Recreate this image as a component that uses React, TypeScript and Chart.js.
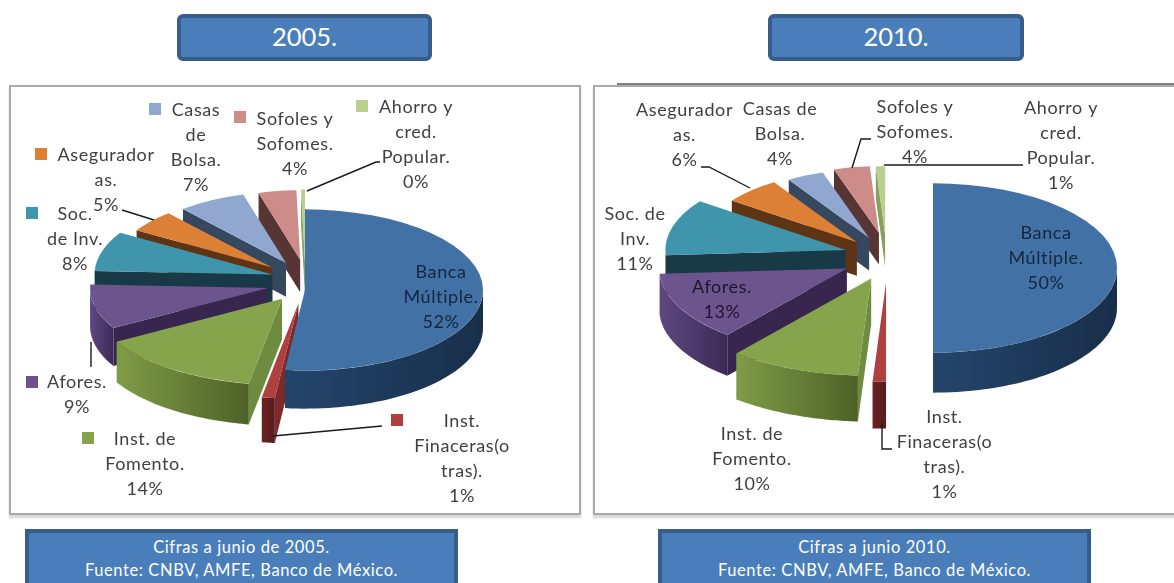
import React, { useEffect, useRef } from "react";
import { Chart, registerables } from "chart.js";

Chart.register(...registerables);

const categories = [
  "Banca Múltiple.",
  "Inst. Finaceras(otras).",
  "Inst. de Fomento.",
  "Afores.",
  "Soc. de Inv.",
  "Aseguradoras.",
  "Casas de Bolsa.",
  "Sofoles y Sofomes.",
  "Ahorro y cred. Popular.",
];
const values2005 = [52, 1, 14, 9, 8, 5, 7, 4, 0.4];
const values2010 = [50, 1, 10, 13, 11, 6, 4, 4, 1];

const wrapped2005 = [
  ["Banca", "Múltiple."],
  ["Inst.", "Finaceras(o", "tras)."],
  ["Inst. de", "Fomento."],
  ["Afores."],
  ["Soc.", "de Inv."],
  ["Asegurador", "as."],
  ["Casas", "de", "Bolsa."],
  ["Sofoles y", "Sofomes."],
  ["Ahorro y", "cred.", "Popular."],
];
const wrapped2010 = [
  ["Banca", "Múltiple."],
  ["Inst.", "Finaceras(o", "tras)."],
  ["Inst. de", "Fomento."],
  ["Afores."],
  ["Soc. de", "Inv."],
  ["Asegurador", "as."],
  ["Casas de", "Bolsa."],
  ["Sofoles y", "Sofomes."],
  ["Ahorro y", "cred.", "Popular."],
];

const topColors = ["#4271A6", "#B04040", "#86A44B", "#6E548D", "#3F95AC", "#DB8034", "#90A8CF", "#CD8C8A", "#B9D08D"];
const wallLeft = ["#24456B", "#6A2222", "#7F9C47", "#5F4880", "#1B3E4A", "#5E3414", "#3A4C64", "#5C3838", "#6E8A4A"];
const wallRight = ["#182F4A", "#591C1C", "#4E6228", "#3C2A56", "#173641", "#5E3414", "#3A4C64", "#5C3838", "#6E8A4A"];
const cutColors = ["#1F3D5E", "#7C2A2A", "#6D8C40", "#38264E", "#183A46", "#5E3414", "#364860", "#583535", "#86A060"];

const PANEL_2005 = {
  left: 9, top: 85, width: 572, height: 430,
  cx: 305, cy: 290, radius: 178, squash: 0.453, depth: 38,
  explode: [0, 46, 40, 38, 34, 43, 40, 32, 0],
  lift: [0, -7, -6, -6, -11, -10, -11, -16, -28],
  sizes: [1, 1.18, 1.07, 1.0, 1.0, 0.89, 0.885, 0.86, 0.9],
  labelAt: [[441, 272], [462, 421], [145, 439], [77, 382], [75, 214], [106, 155], [196, 110], [295, 119], [416, 107]],
  keyAt: [null, [397, 420], [88, 438], [32, 382], [32, 213], [41, 154], [155, 109], [240, 117], [362, 106]],
  leaders: [
    [[380, 162], [376, 162], [307, 191]],
    [[122, 210], [154, 220]],
    [[91, 342], [91, 367]],
    [[382, 426], [273, 436]],
  ],
};
const PANEL_2010 = {
  left: 593, top: 85, width: 581, height: 430,
  cx: 887, cy: 262, radius: 184, squash: 0.46, depth: 40,
  explode: [46, 30, 43, 45, 43, 44, 42, 43, 60],
  lift: [6, 7, -2, -3, -6.5, -5, -6.5, -9.6, 0],
  sizes: [1, 1.17, 1.15, 1.02, 0.98, 0.84, 0.815, 0.79, 0.805],
  labelAt: [[1046, 233], [944.5, 417], [752, 434], [722, 287], [635, 214], [684.5, 110], [780, 109], [915, 107], [1061, 108]],
  keyAt: [null, null, null, null, null, null, null, null, null],
  leaders: [
    [[701, 167], [709, 167], [750, 188]],
    [[871, 139], [861, 139], [852, 168]],
    [[1023, 165], [884, 165]],
    [[882, 423], [882, 449], [892, 449]],
  ],
};

const LABEL_FONT = '18px Lato, "Open Sans", sans-serif';
const LINE_STEP = 25.2;

function pie3d(panel: any, wrapped: string[][], values: number[]) {
  return {
    id: "pie3d",
    beforeDatasetDraw(chart: any) {
      const ctx = chart.ctx;
      const { cx, cy, squash: k, depth } = panel;
      const arcs = chart.getDatasetMeta(0).data;
      const parts = arcs.map((arc: any, i: number) => {
        const mid = (arc.startAngle + arc.endAngle) / 2;
        return {
          arc, i, mid,
          ax: cx + Math.cos(mid) * panel.explode[i],
          ay: cy + Math.sin(mid) * panel.explode[i] * k + panel.lift[i],
          r: arc.outerRadius * panel.sizes[i],
          d: depth * panel.sizes[i],
        };
      });
      // back slices first; the largest slice sits in front of its neighbour's cut face
      const rank = (p: any) => (p.i === 0 ? 9 : Math.sin(p.mid));
      parts.sort((a: any, b: any) => rank(a) - rank(b));
      ctx.save();
      ctx.translate(-panel.left, -panel.top);
      for (const p of parts) {
        const at = (a: number) => [p.ax + Math.cos(a) * p.r, p.ay + Math.sin(a) * p.r * k];
        const cut = (a: number) => {
          const [x, y] = at(a);
          ctx.fillStyle = cutColors[p.i];
          ctx.beginPath();
          ctx.moveTo(p.ax, p.ay);
          ctx.lineTo(x, y);
          ctx.lineTo(x, y + p.d);
          ctx.lineTo(p.ax, p.ay + p.d);
          ctx.closePath();
          ctx.fill();
        };
        const s = p.arc.startAngle;
        const e = p.arc.endAngle;
        if (Math.cos(s) < 0) cut(s);
        if (Math.cos(e) > 0) cut(e);
        const from = Math.max(s, 0);
        const to = Math.min(e, Math.PI);
        if (to > from) {
          const pts = [];
          for (let n = 0; n <= 48; n++) pts.push(at(from + ((to - from) * n) / 48));
          const xs = pts.map((q) => q[0]);
          const g = ctx.createLinearGradient(Math.min(...xs), 0, Math.max(...xs), 0);
          g.addColorStop(0, wallLeft[p.i]);
          g.addColorStop(1, wallRight[p.i]);
          ctx.fillStyle = g;
          ctx.beginPath();
          pts.forEach((q, n) => (n ? ctx.lineTo(q[0], q[1]) : ctx.moveTo(q[0], q[1])));
          for (let n = pts.length - 1; n >= 0; n--) ctx.lineTo(pts[n][0], pts[n][1] + p.d);
          ctx.closePath();
          ctx.fill();
        }
      }
      for (const p of parts) {
        ctx.save();
        ctx.translate(p.ax, p.ay);
        ctx.scale(panel.sizes[p.i], k * panel.sizes[p.i]);
        ctx.translate(-p.arc.x, -p.arc.y);
        p.arc.draw(ctx);
        ctx.restore();
      }
      ctx.restore();
      return false;
    },
    afterDatasetsDraw(chart: any) {
      const ctx = chart.ctx;
      ctx.save();
      ctx.translate(-panel.left, -panel.top);
      ctx.strokeStyle = "#1a1a1a";
      ctx.lineWidth = 1.4;
      for (const path of panel.leaders) {
        ctx.beginPath();
        path.forEach((q: number[], n: number) => (n ? ctx.lineTo(q[0], q[1]) : ctx.moveTo(q[0], q[1])));
        ctx.stroke();
      }
      panel.keyAt.forEach((q: number[] | null, i: number) => {
        if (!q) return;
        ctx.fillStyle = topColors[i];
        ctx.fillRect(q[0] - 6, q[1] - 6, 12, 12);
      });
      ctx.font = LABEL_FONT;
      ctx.letterSpacing = "0.6px";
      ctx.textAlign = "center";
      ctx.textBaseline = "middle";
      wrapped.forEach((lines, i) => {
        const texts = [...lines, `${Math.round(values[i])}%`];
        const [x, y] = panel.labelAt[i];
        ctx.fillStyle = i === 0 ? "#14273D" : i === 3 && panel === PANEL_2010 ? "#1E1430" : "#404040";
        texts.forEach((t, n) => ctx.fillText(t, x, y + n * LINE_STEP));
      });
      ctx.restore();
    },
  };
}

function PiePanel({ panel, wrapped, values }: { panel: any; wrapped: string[][]; values: number[] }) {
  const ref = useRef<HTMLCanvasElement>(null);
  useEffect(() => {
    const chart = new Chart(ref.current as HTMLCanvasElement, {
      type: "pie",
      data: {
        labels: categories,
        datasets: [{ data: values, backgroundColor: topColors, borderWidth: 0 }],
      },
      options: {
        responsive: false,
        animation: false,
        events: [],
        radius: panel.radius,
        plugins: { legend: { display: false }, tooltip: { enabled: false } },
      } as any,
      plugins: [pie3d(panel, wrapped, values)],
    });
    return () => chart.destroy();
  }, []);
  return (
    <canvas
      ref={ref}
      width={panel.width}
      height={panel.height}
      style={{ position: "absolute", left: panel.left, top: panel.top, width: panel.width, height: panel.height }}
    />
  );
}

const box = (left: number, top: number, width: number, height: number): React.CSSProperties => ({
  position: "absolute",
  left,
  top,
  width,
  height,
  boxSizing: "border-box",
  background: "#4A7EBB",
  color: "#fff",
  textAlign: "center",
  fontFamily: 'Lato, "Open Sans", sans-serif',
});

const frame = (left: number, width: number): React.CSSProperties => ({
  position: "absolute",
  left,
  top: 85,
  width,
  height: 430,
  boxSizing: "border-box",
  background: "#fff",
  border: "2px solid #A9A9A9",
  boxShadow: "0 3px 2px #D8D8D8",
});

export default function App() {
  const headerStyle: React.CSSProperties = {
    border: "4px solid #385D8A",
    borderRadius: 6,
    fontSize: 25.5,
    lineHeight: "37px",
  };
  const footStyle: React.CSSProperties = {
    border: "4px solid #385D8A",
    borderBottom: "none",
    fontSize: 16.5,
    letterSpacing: "0.6px",
    lineHeight: "23px",
    paddingTop: 3,
  };
  return (
    <div style={{ position: "fixed", left: 0, top: 0, width: 1174, height: 583, overflow: "hidden", background: "#fff", filter: "blur(0.6px)" }}>
      <div style={{ ...box(177, 14, 255, 47), ...headerStyle }}>2005.</div>
      <div style={{ ...box(768, 14, 256, 47), ...headerStyle }}>2010.</div>
      <div style={frame(9, 572)} />
      <div style={{ ...frame(593, 590) }} />
      <div style={{ position: "absolute", left: 617, top: 83, width: 557, height: 2, background: "#7F7F7F" }} />
      <PiePanel panel={PANEL_2005} wrapped={wrapped2005} values={values2005} />
      <PiePanel panel={PANEL_2010} wrapped={wrapped2010} values={values2010} />
      <div style={{ ...box(25, 529, 433, 54), ...footStyle }}>
        Cifras a junio de 2005.
        <br />
        Fuente: CNBV, AMFE, Banco de México.
      </div>
      <div style={{ ...box(658, 529, 433, 54), ...footStyle }}>
        Cifras a junio 2010.
        <br />
        Fuente: CNBV, AMFE, Banco de México.
      </div>
    </div>
  );
}
